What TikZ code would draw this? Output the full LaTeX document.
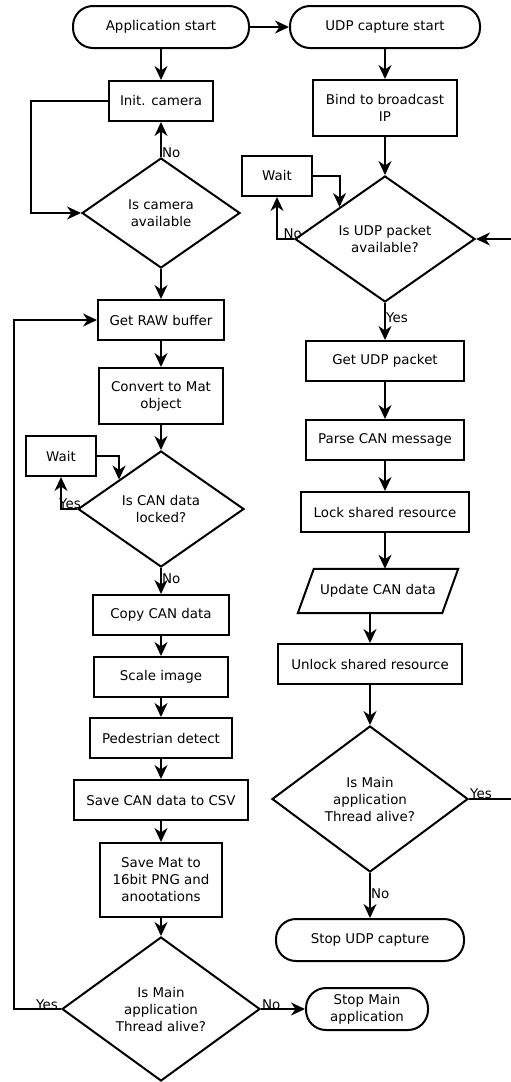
\documentclass[tikz,border=0pt]{standalone}
\usepackage{fontspec}
\setmainfont{DejaVu Sans}
\usetikzlibrary{shapes.geometric,arrows.meta,calc}
\begin{document}
\begin{tikzpicture}[x=1pt,y=-1pt,
  every node/.style={font=\fontsize{13.4}{17}\selectfont, align=center, inner sep=0pt},
  base/.style={draw, line width=2pt},
  proc/.style={base, rectangle},
  term/.style={base, rectangle, rounded corners=20pt},
  dec/.style={base, diamond},
  lbl/.style={font=\fontsize{13.4}{17}\selectfont},
  conn/.style={line width=2pt, -{Stealth[length=14pt,width=13pt,inset=4.5pt]}}]
\useasboundingbox (0,0) rectangle (511,1082);
% left column
\node[term, minimum width=176, minimum height=42] (app) at (161,27) {Application start};
\node[proc, minimum width=104, minimum height=40] (init) at (161,101) {Init. camera};
\node[dec, minimum width=158, minimum height=110] (camd) at (161,213) {Is camera\\available};
\node[proc, minimum width=126, minimum height=40] (raw) at (161,320) {Get RAW buffer};
\node[proc, minimum width=124, minimum height=56] (conv) at (161,396) {Convert to Mat\\object};
\node[dec, minimum width=166, minimum height=116] (cand) at (161,509) {Is CAN data\\locked?};
\node[proc, minimum width=70, minimum height=40] (waitl) at (61,456) {Wait};
\node[proc, minimum width=136, minimum height=40] (copy) at (161,615) {Copy CAN data};
\node[proc, minimum width=134, minimum height=40] (scale) at (161,677) {Scale image};
\node[proc, minimum width=142, minimum height=40] (ped) at (161,738) {Pedestrian detect};
\node[proc, minimum width=174, minimum height=40] (csv) at (161,800) {Save CAN data to CSV};
\node[proc, minimum width=122, minimum height=74] (png) at (161,880) {Save Mat to\\16bit PNG and\\anootations};
\node[dec, minimum width=198, minimum height=144] (maind) at (161,1009) {Is Main\\application\\Thread alive?};
\node[term, minimum width=122, minimum height=42] (stopmain) at (367,1009) {Stop Main\\application};
% right column
\node[term, minimum width=190, minimum height=42] (udp) at (385,27) {UDP capture start};
\node[proc, minimum width=144, minimum height=56] (bind) at (385,108) {Bind to broadcast\\IP};
\node[dec, minimum width=180, minimum height=126] (udpd) at (385,239) {Is UDP packet\\available?};
\node[proc, minimum width=70, minimum height=40] (waitr) at (277,176) {Wait};
\node[proc, minimum width=158, minimum height=40] (getudp) at (385,361) {Get UDP packet};
\node[proc, minimum width=158, minimum height=40] (parse) at (385,440) {Parse CAN message};
\node[proc, minimum width=168, minimum height=40] (lock) at (385,512) {Lock shared resource};
\node[minimum width=144, minimum height=44] (upd) at (378,591) {Update CAN data};
\draw[line width=2pt] ([xshift=8]upd.north west) -- ([xshift=8]upd.north east) -- ([xshift=-8]upd.south east) -- ([xshift=-8]upd.south west) -- cycle;
\node[proc, minimum width=184, minimum height=40] (unlock) at (370,664) {Unlock shared resource};
\node[dec, minimum width=196, minimum height=146] (alived) at (370,799) {Is Main\\application\\Thread alive?};
\node[term, minimum width=188, minimum height=42] (stopudp) at (370,940) {Stop UDP capture};
% connectors left
\draw[conn] (app.east) -- (udp.west);
\draw[conn] (app.south) -- (init.north);
\draw[conn] (camd.north) -- (init.south);
\draw[conn] (init.west) -- ++(-77,0) |- (camd.west);
\draw[conn] (camd.south) -- (raw.north);
\draw[conn] (raw.south) -- (conv.north);
\draw[conn] (conv.south) -- (cand.north);
\draw[conn] (cand.west) -| (waitl.south);
\draw[conn] (waitl.east) -| (cand.north west);
\draw[conn] (cand.south) -- (copy.north);
\draw[conn] (copy.south) -- (scale.north);
\draw[conn] (scale.south) -- (ped.north);
\draw[conn] (ped.south) -- (csv.north);
\draw[conn] (csv.south) -- (png.north);
\draw[conn] (png.south) -- (maind.north);
\draw[conn] (maind.west) -- ++(-47,0) |- (raw.west);
\draw[conn] (maind.east) -- (stopmain.west);
% connectors right
\draw[conn] (udp.south) -- (bind.north);
\draw[conn] (bind.south) -- (udpd.north);
\draw[conn] (udpd.west) -| (waitr.south);
\draw[conn] (waitr.east) -| (udpd.north west);
\draw[conn] (udpd.south) -- (getudp.north);
\draw[conn] (getudp.south) -- (parse.north);
\draw[conn] (parse.south) -- (lock.north);
\draw[conn] (lock.south) -- (lock.south |- upd.north);
\draw[conn] (unlock.north |- upd.south) -- (unlock.north);
\draw[conn] (unlock.south) -- (alived.north);
\draw[conn] (alived.south) -- (stopudp.north);
\draw[conn] (alived.east) -- ++(46,0) |- (udpd.east);
% labels
\node[lbl, anchor=base west] (l1) at ($(camd.north)+(1,0)$) {No};
\node[lbl, anchor=base east] (l2) at ($(udpd.west)+(8,-1)$) {No};
\node[lbl, anchor=base west] (l3) at ($(udpd.south)+(1,19)$) {Yes};
\node[lbl, anchor=base east] (l4) at ($(cand.west)+(4,-1)$) {Yes};
\node[lbl, anchor=base west] (l5) at ($(cand.south)+(1,15)$) {No};
\node[lbl, anchor=base west] (l6) at ($(alived.east)+(1,-1)$) {Yes};
\node[lbl, anchor=base west] (l7) at ($(alived.south)+(1,25)$) {No};
\node[lbl, anchor=base east] (l8) at ($(maind.west)+(-3,0)$) {Yes};
\node[lbl, anchor=base west] (l9) at ($(maind.east)+(1,0)$) {No};
\end{tikzpicture}
\end{document}
